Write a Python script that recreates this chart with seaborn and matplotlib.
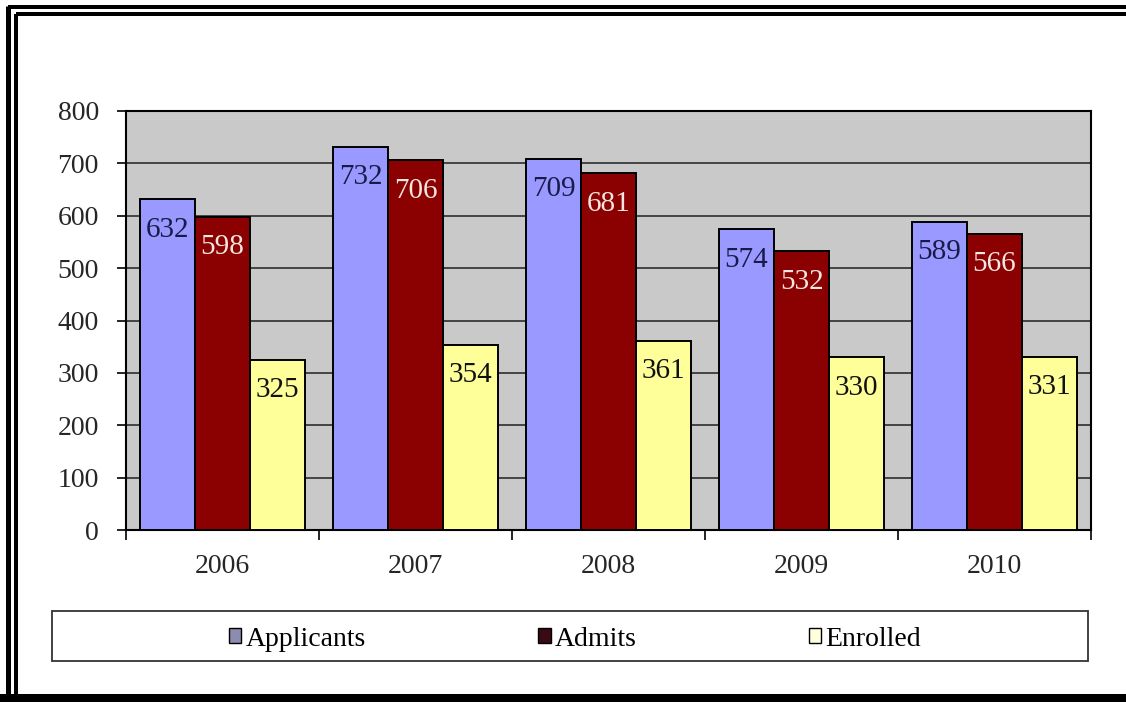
import matplotlib
matplotlib.use("Agg")
import matplotlib.pyplot as plt
from matplotlib.lines import Line2D
from matplotlib.patches import Patch, Rectangle
import seaborn as sns
import pandas as pd
import numpy as np

# Admissions funnel by year
years = ["2006", "2007", "2008", "2009", "2010"]
series = ["Applicants", "Admits", "Enrolled"]
applicants = [632, 732, 709, 574, 589]
admits = [598, 706, 681, 532, 566]
enrolled = [325, 354, 361, 330, 331]

colors = ["#9999FF", "#8B0000", "#FFFF99"]
label_colors = ["#1a1a4a", "#f4e6e0", "#111111"]

df = pd.DataFrame({
    "Year": years * 3,
    "Series": [s for s in series for _ in years],
    "Value": applicants + admits + enrolled,
})

sns.set_theme(style="white")
plt.rcParams["font.family"] = ["Liberation Serif", "DejaVu Serif"]

W, H = 1126, 702
fig = plt.figure(figsize=(W / 100, H / 100), dpi=100)
ax = fig.add_axes([126 / W, 1 - 530 / H, (1091 - 126) / W, (530 - 111) / H])
ax.set_facecolor("#c9c9c9")

sns.barplot(data=df, x="Year", y="Value", hue="Series", order=years,
            hue_order=series, palette=colors, width=0.855, saturation=1,
            edgecolor="black", linewidth=1.4, legend=False, ax=ax, zorder=3)

ax.set_ylim(0, 800)
ax.set_xlim(-0.5, len(years) - 0.5)
ax.set_yticks(np.arange(0, 801, 100))
ax.yaxis.grid(True, color="#3a3a3a", linewidth=1.3, zorder=0)
ax.set_axisbelow(True)
ax.set_xlabel("")
ax.set_ylabel("")

# category boundary ticks on x, outward ticks on y
ax.set_xticks(np.arange(len(years)))
ax.set_xticklabels(years)
ax.set_xticks(np.arange(-0.5, len(years)), minor=True)
ax.tick_params(axis="x", which="major", length=0, labelsize=20, pad=17)
ax.tick_params(axis="x", which="minor", length=7, width=1.2, color="black", bottom=True)
ax.tick_params(axis="y", which="major", length=6.5, width=1.2, color="black",
               labelsize=20, pad=13, left=True)

for sp in ax.spines.values():
    sp.set_color("black")
    sp.set_linewidth(1.5)

# value labels just under the top of each bar
for cont, lc in zip(ax.containers, label_colors):
    for bar in cont:
        h = bar.get_height()
        ax.annotate(f"{h:.0f}", (bar.get_x() + bar.get_width() / 2, h),
                    xytext=(0, -22), textcoords="offset points",
                    ha="center", va="center", fontsize=21, color=lc, zorder=5)

# legend strip below the axis
fig.add_artist(Rectangle((52 / W, 1 - 661 / H), (1088 - 52) / W, 50 / H,
                         transform=fig.transFigure, facecolor="white",
                         edgecolor="#333333", linewidth=1.3))
handles = [Patch(facecolor=c, edgecolor="black", linewidth=1.0)
           for c in ["#8c8cb0", "#3a0a14", "#ffffdd"]]
leg = fig.legend(handles, series, loc="center",
                 bbox_to_anchor=(575 / W, 1 - 639 / H),
                 ncol=3, frameon=False, fontsize=20,
                 handlelength=0.45, handleheight=0.45,
                 handletextpad=0.15, columnspacing=6.2, borderpad=0)
for t in leg.get_texts():
    t.set_color("black")

# double frame around the chart
def fx(px):
    return px / W
def fy(py):
    return 1 - py / H
frame = [
    ((8, 8), (6, H), 5),        # outer left
    ((8, W), (6.5, 6.5), 4),    # outer top
    ((16, 16), (14, H), 4),     # inner left
    ((16, W), (14, 14), 4),     # inner top
    ((0, W), (698, 698), 8),    # bottom
]
for xs, ys, lw in frame:
    fig.add_artist(Line2D([fx(xs[0]), fx(xs[1])], [fy(ys[0]), fy(ys[1])],
                          transform=fig.transFigure, color="black",
                          linewidth=lw * 0.72, solid_capstyle="butt"))

fig.savefig("out.png", dpi=100, facecolor="white")
